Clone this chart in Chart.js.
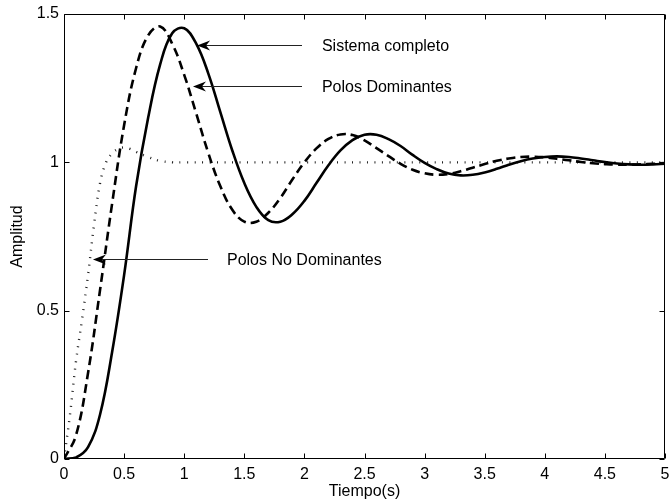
<!DOCTYPE html>
<html><head><meta charset="utf-8">
<script src="https://cdn.jsdelivr.net/npm/chart.js@4/dist/chart.umd.min.js"></script>
<style>html,body{margin:0;padding:0;background:#fff;overflow:hidden}#wrap{width:669px;height:501px}</style>
</head><body><div id="wrap"><canvas id="c" width="669" height="501"></canvas></div>
<script>
// ---- data ----
const time = [0,0.1,0.2,0.3,0.4,0.5,0.6,0.7,0.8,0.9,1.0,1.1,1.2,1.3,1.4,1.5,1.6,1.7,1.8,1.9,2.0,2.1,2.2,2.3,2.4,2.5,2.6,2.7,2.8,2.9,3.0,3.1,3.2,3.3,3.4,3.5,3.6,3.7,3.8,3.9,4.0,4.1,4.2,4.3,4.4,4.5,4.6,4.7,4.8,4.9,5.0];
const sistemaCompleto = [0,0.005,0.04,0.15,0.36,0.62,0.92,1.15,1.33,1.435,1.452,1.40,1.30,1.17,1.04,0.93,0.85,0.805,0.80,0.825,0.87,0.93,0.99,1.04,1.075,1.093,1.093,1.078,1.055,1.025,0.998,0.977,0.962,0.956,0.958,0.966,0.978,0.992,1.004,1.013,1.018,1.02,1.018,1.013,1.007,1.001,0.996,0.993,0.992,0.993,0.995];
const polosDominantes = [0,0.08,0.29,0.57,0.86,1.125,1.318,1.428,1.458,1.40,1.295,1.165,1.032,0.92,0.84,0.80,0.80,0.83,0.88,0.942,1.0,1.047,1.079,1.094,1.092,1.074,1.048,1.021,0.995,0.975,0.963,0.958,0.961,0.970,0.982,0.994,1.005,1.013,1.018,1.019,1.017,1.012,1.007,1.001,0.997,0.994,0.992,0.992,0.993,0.995,0.998];
const timeNoDominantes = [0,0.05,0.1,0.15,0.2,0.25,0.3,0.35,0.4,0.45,0.5,0.55,0.6,0.7,0.8,0.9,1.0,2.0,3.0,4.0,5.0];
const polosNoDominantes = [0,0.15,0.33,0.47,0.62,0.79,0.93,1.0,1.03,1.045,1.05,1.045,1.035,1.018,1.005,1.0,1.0,1.0,1.0,1.0,1.0];
const seriesNames = ['Sistema completo','Polos Dominantes','Polos No Dominantes'];
const xTicks = [0,0.5,1,1.5,2,2.5,3,3.5,4,4.5,5];
const xTickLabels = ['0','0.5','1','1.5','2','2.5','3','3.5','4','4.5','5'];
const yTicks = [0,0.5,1,1.5];
const yTickLabels = ['0','0.5','1','1.5'];
const xTitle = 'Tiempo(s)';
const yTitle = 'Amplitud';

// ---- annotation placement (data units) ----
const notes = [
  {text: seriesNames[0], tip:[1.107,1.395], tailX:1.98, textX:2.146},
  {text: seriesNames[1], tip:[1.073,1.257], tailX:1.98, textX:2.146},
  {text: seriesNames[2], tip:[0.241,0.674], tailX:1.198, textX:1.356}
];

const FONT = "'Liberation Sans', Arial, Helvetica, sans-serif";
const pts = (xs, ys) => xs.map((x,i)=>({x:x, y:ys[i]}));

const boxPlugin = {
  id:'box',
  afterDraw(chart){
    const {ctx, chartArea:a, scales:{x,y}} = chart;
    ctx.save();
    ctx.strokeStyle='#000'; ctx.lineWidth=1;
    const L=Math.round(a.left)+0.5, R=Math.round(a.right)-0.5, T=Math.round(a.top)+0.5, B=Math.round(a.bottom)-0.5;
    ctx.beginPath();
    ctx.rect(L,T,R-L,B-T);
    xTicks.forEach(v=>{const p=Math.round(x.getPixelForValue(v))+0.5; ctx.moveTo(p,B); ctx.lineTo(p,B-5); ctx.moveTo(p,T); ctx.lineTo(p,T+5);});
    yTicks.forEach(v=>{const p=Math.round(y.getPixelForValue(v))+0.5; ctx.moveTo(L,p); ctx.lineTo(L+5,p); ctx.moveTo(R,p); ctx.lineTo(R-5,p);});
    ctx.stroke();
    // annotations
    ctx.font = '16px ' + FONT;
    ctx.textBaseline='middle'; ctx.textAlign='left';
    notes.forEach(n=>{
      const tx=x.getPixelForValue(n.tip[0]), ty=Math.round(y.getPixelForValue(n.tip[1]))+0.5;
      const ex=x.getPixelForValue(n.tailX);
      ctx.strokeStyle='#222'; ctx.lineWidth=1;
      ctx.beginPath(); ctx.moveTo(ex,ty); ctx.lineTo(tx+8,ty); ctx.stroke();
      ctx.fillStyle='#000';
      ctx.beginPath(); ctx.moveTo(tx,ty); ctx.lineTo(tx+13,ty-5); ctx.lineTo(tx+9,ty); ctx.lineTo(tx+13,ty+5); ctx.closePath(); ctx.fill();
      ctx.fillText(n.text, x.getPixelForValue(n.textX), ty+1);
    });
    ctx.restore();
  }
};

new Chart(document.getElementById('c'), {
  type:'line',
  data:{datasets:[
    {label:seriesNames[0], data:pts(time,sistemaCompleto), borderColor:'#000', borderWidth:2.6, pointRadius:0, tension:0.4, fill:false},
    {label:seriesNames[1], data:pts(time,polosDominantes), borderColor:'#000', borderWidth:2.6, borderDash:[9,5], pointRadius:0, tension:0.4, fill:false},
    {label:seriesNames[2], data:pts(timeNoDominantes,polosNoDominantes), borderColor:'#222', borderWidth:2.4, borderDash:[1,6.5], pointRadius:0, tension:0.4, fill:false}
  ]},
  options:{
    responsive:false, animation:false, devicePixelRatio:1,
    layout:{padding:{top:14,right:4,left:0,bottom:0}},
    plugins:{legend:{display:false}, title:{display:false}, tooltip:{enabled:false}},
    scales:{
      x:{type:'linear', min:0, max:5,
        grid:{display:false, drawTicks:false}, border:{display:false},
        afterBuildTicks:s=>{s.ticks = xTicks.map(v=>({value:v}));},
        ticks:{color:'#000', font:{family:FONT,size:16}, padding:6, maxRotation:0, autoSkip:false,
          callback:(v,i)=>xTickLabels[i]},
        title:{display:true, text:xTitle, color:'#000', font:{family:FONT,size:16}, padding:{top:0,bottom:0}},
        afterFit:s=>{s.height=42; s.paddingLeft=0; s.paddingRight=0;}
      },
      y:{type:'linear', min:0, max:1.5,
        grid:{display:false, drawTicks:false}, border:{display:false},
        afterBuildTicks:s=>{s.ticks = yTicks.map(v=>({value:v}));},
        ticks:{color:'#000', font:{family:FONT,size:16}, padding:5, autoSkip:false,
          callback:(v,i)=>yTickLabels[i]},
        title:{display:true, text:yTitle, color:'#000', font:{family:FONT,size:16}, padding:{top:8,bottom:0}},
        afterFit:s=>{s.width=64; s.paddingTop=0; s.paddingBottom=0;}
      }
    }
  },
  plugins:[boxPlugin]
});
</script></body></html>
